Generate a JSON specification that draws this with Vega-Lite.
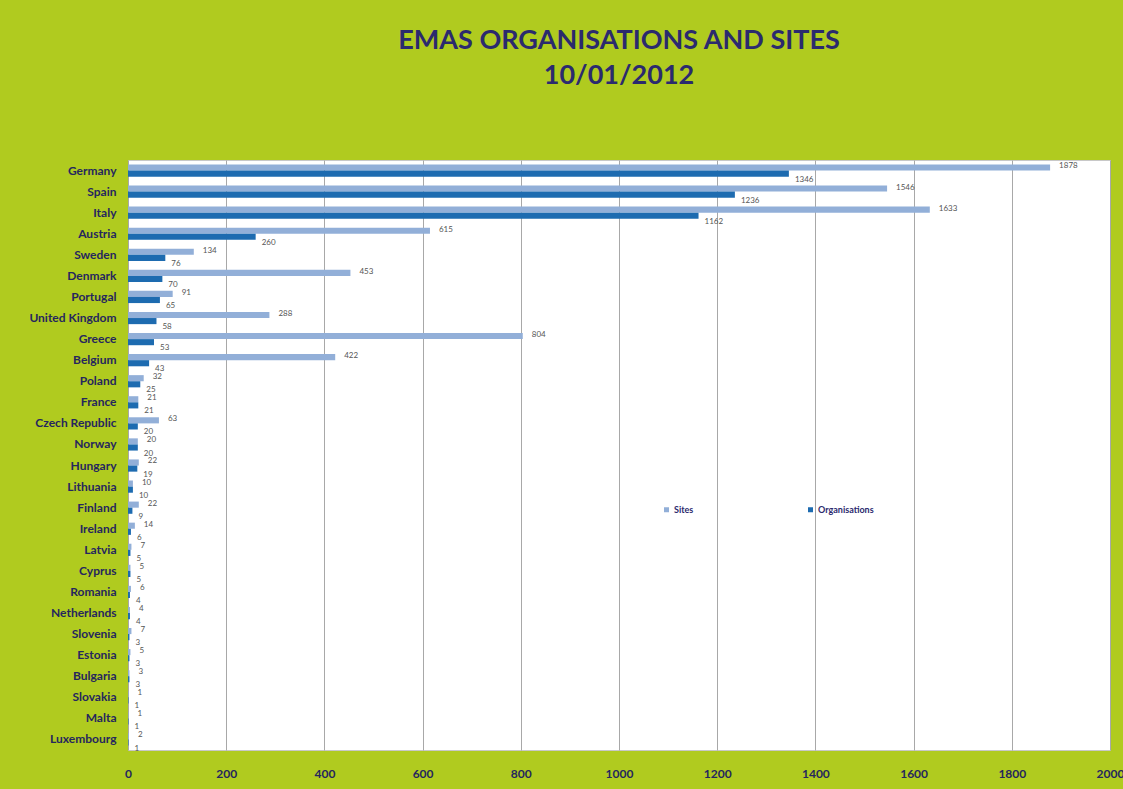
{
  "$schema": "https://vega.github.io/schema/vega-lite/v6.json",
  "width": 982,
  "height": 590,
  "autosize": {"type": "none"},
  "padding": {"left": 128, "top": 160, "right": 13, "bottom": 39},
  "background": "#b0cb1f",
  "view": {"fill": "white", "stroke": "#c8c8c8"},
  "title": {
    "text": ["EMAS ORGANISATIONS AND SITES", "10/01/2012"],
    "font": "Lato",
    "fontSize": 27,
    "fontWeight": "bold",
    "color": "#2b2a6e",
    "lineHeight": 35,
    "anchor": "middle",
    "offset": 70
  },
  "data": {
    "values": [
      {"country": "Germany", "type": "Sites", "value": 1878},
      {"country": "Germany", "type": "Organisations", "value": 1346},
      {"country": "Spain", "type": "Sites", "value": 1546},
      {"country": "Spain", "type": "Organisations", "value": 1236},
      {"country": "Italy", "type": "Sites", "value": 1633},
      {"country": "Italy", "type": "Organisations", "value": 1162},
      {"country": "Austria", "type": "Sites", "value": 615},
      {"country": "Austria", "type": "Organisations", "value": 260},
      {"country": "Sweden", "type": "Sites", "value": 134},
      {"country": "Sweden", "type": "Organisations", "value": 76},
      {"country": "Denmark", "type": "Sites", "value": 453},
      {"country": "Denmark", "type": "Organisations", "value": 70},
      {"country": "Portugal", "type": "Sites", "value": 91},
      {"country": "Portugal", "type": "Organisations", "value": 65},
      {"country": "United Kingdom", "type": "Sites", "value": 288},
      {"country": "United Kingdom", "type": "Organisations", "value": 58},
      {"country": "Greece", "type": "Sites", "value": 804},
      {"country": "Greece", "type": "Organisations", "value": 53},
      {"country": "Belgium", "type": "Sites", "value": 422},
      {"country": "Belgium", "type": "Organisations", "value": 43},
      {"country": "Poland", "type": "Sites", "value": 32},
      {"country": "Poland", "type": "Organisations", "value": 25},
      {"country": "France", "type": "Sites", "value": 21},
      {"country": "France", "type": "Organisations", "value": 21},
      {"country": "Czech Republic", "type": "Sites", "value": 63},
      {"country": "Czech Republic", "type": "Organisations", "value": 20},
      {"country": "Norway", "type": "Sites", "value": 20},
      {"country": "Norway", "type": "Organisations", "value": 20},
      {"country": "Hungary", "type": "Sites", "value": 22},
      {"country": "Hungary", "type": "Organisations", "value": 19},
      {"country": "Lithuania", "type": "Sites", "value": 10},
      {"country": "Lithuania", "type": "Organisations", "value": 10},
      {"country": "Finland", "type": "Sites", "value": 22},
      {"country": "Finland", "type": "Organisations", "value": 9},
      {"country": "Ireland", "type": "Sites", "value": 14},
      {"country": "Ireland", "type": "Organisations", "value": 6},
      {"country": "Latvia", "type": "Sites", "value": 7},
      {"country": "Latvia", "type": "Organisations", "value": 5},
      {"country": "Cyprus", "type": "Sites", "value": 5},
      {"country": "Cyprus", "type": "Organisations", "value": 5},
      {"country": "Romania", "type": "Sites", "value": 6},
      {"country": "Romania", "type": "Organisations", "value": 4},
      {"country": "Netherlands", "type": "Sites", "value": 4},
      {"country": "Netherlands", "type": "Organisations", "value": 4},
      {"country": "Slovenia", "type": "Sites", "value": 7},
      {"country": "Slovenia", "type": "Organisations", "value": 3},
      {"country": "Estonia", "type": "Sites", "value": 5},
      {"country": "Estonia", "type": "Organisations", "value": 3},
      {"country": "Bulgaria", "type": "Sites", "value": 3},
      {"country": "Bulgaria", "type": "Organisations", "value": 3},
      {"country": "Slovakia", "type": "Sites", "value": 1},
      {"country": "Slovakia", "type": "Organisations", "value": 1},
      {"country": "Malta", "type": "Sites", "value": 1},
      {"country": "Malta", "type": "Organisations", "value": 1},
      {"country": "Luxembourg", "type": "Sites", "value": 2},
      {"country": "Luxembourg", "type": "Organisations", "value": 1}
    ]
  },
  "encoding": {
    "y": {
      "field": "country",
      "type": "nominal",
      "sort": null,
      "scale": {"paddingInner": 0.42, "paddingOuter": 0.21},
      "axis": {
        "title": null,
        "ticks": false,
        "domain": false,
        "labelPadding": 12,
        "labelFont": "Lato",
        "labelFontSize": 12,
        "labelFontWeight": "bold",
        "labelColor": "#25265e"
      }
    },
    "yOffset": {
      "field": "type",
      "type": "nominal",
      "sort": ["Sites", "Organisations"]
    },
    "x": {
      "field": "value",
      "type": "quantitative",
      "scale": {"domain": [0, 2000], "nice": false},
      "axis": {
        "title": null,
        "values": [0, 200, 400, 600, 800, 1000, 1200, 1400, 1600, 1800, 2000],
        "format": "d",
        "labelOverlap": false,
        "ticks": false,
        "domain": false,
        "grid": true,
        "gridColor": "#a8a8a8",
        "gridWidth": 1,
        "labelPadding": 18,
        "labelFont": "Lato",
        "labelFontSize": 12,
        "labelFontWeight": "bold",
        "labelColor": "#25265e",
        "labelFlush": false
      }
    }
  },
  "layer": [
    {
      "mark": {"type": "bar"},
      "encoding": {
        "color": {
          "field": "type",
          "type": "nominal",
          "scale": {"domain": ["Sites", "Organisations"], "range": ["#92afd8", "#1d6bb0"]},
          "legend": {
            "title": null,
            "orient": "none",
            "legendX": 534,
            "legendY": 345,
            "direction": "horizontal",
            "columns": 2,
            "columnPadding": 112,
            "symbolType": "square",
            "symbolSize": 25,
            "symbolStrokeWidth": 0,
            "labelFont": "Lato",
            "labelFontSize": 9,
            "labelFontWeight": "bold",
            "labelColor": "#2b2a6e",
            "labelOffset": 3
          }
        }
      }
    },
    {
      "transform": [{"filter": "datum.type === 'Sites'"}],
      "mark": {"type": "text", "align": "left", "baseline": "middle", "dx": 9, "dy": -1, "font": "Lato", "fontSize": 8, "color": "#555555"},
      "encoding": {"text": {"field": "value", "type": "quantitative"}}
    },
    {
      "transform": [{"filter": "datum.type === 'Organisations'"}],
      "mark": {"type": "text", "align": "left", "baseline": "middle", "dx": 6, "dy": 6, "font": "Lato", "fontSize": 8, "color": "#555555"},
      "encoding": {"text": {"field": "value", "type": "quantitative"}}
    }
  ]
}
